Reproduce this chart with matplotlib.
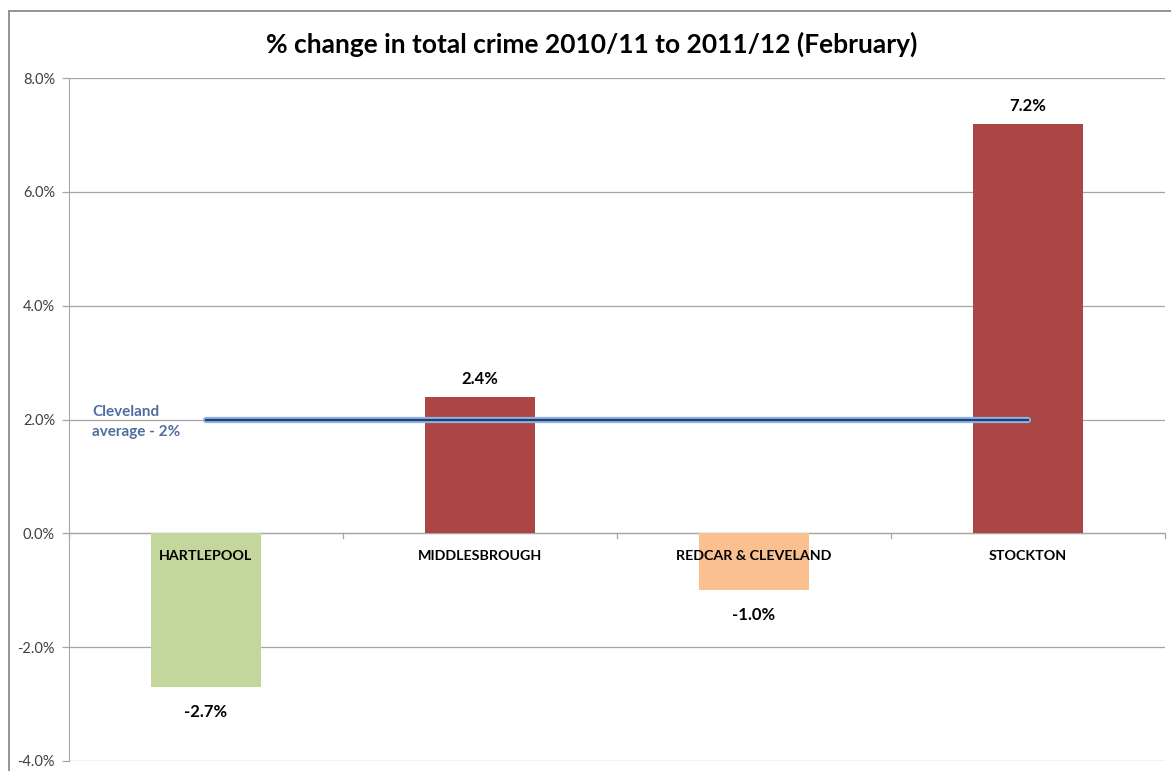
import matplotlib.pyplot as plt
from matplotlib.lines import Line2D
from matplotlib.ticker import FuncFormatter, MultipleLocator

plt.rcParams["font.family"] = ["Lato", "DejaVu Sans"]

areas = ["HARTLEPOOL", "MIDDLESBROUGH", "REDCAR & CLEVELAND", "STOCKTON"]
change = [-2.7, 2.4, -1.0, 7.2]
bar_colors = ["#C3D69B", "#AA4643", "#FAC090", "#AA4643"]
cleveland_avg = [2.0, 2.0, 2.0, 2.0]

W, H = 1171, 771
fig = plt.figure(figsize=(W / 100, H / 100), dpi=100)
fig.patch.set_edgecolor("none")
ax = fig.add_axes([69 / W, 1 - 761 / H, (1165 - 69) / W, (761 - 78) / H])

# outer chart border (only left and top edges are in the picture)
bx, by = 8.5 / W, 1 - 10.5 / H
fig.add_artist(Line2D([bx, bx], [0, by], transform=fig.transFigure, color="#8C8C8C", linewidth=1.3))
fig.add_artist(Line2D([bx, 1], [by, by], transform=fig.transFigure, color="#8C8C8C", linewidth=1.3))

x = list(range(len(areas)))
ax.bar(x, change, width=0.4, color=bar_colors, zorder=2)
ax.plot(x, cleveland_avg, color="#8EB4E3", linewidth=4.5, zorder=3, solid_capstyle="round")
ax.plot(x, cleveland_avg, color="#1F3F73", linewidth=1.6, zorder=4)

ax.set_xlim(-0.5, len(areas) - 0.5)
ax.set_ylim(-4, 8)
ax.yaxis.set_major_locator(MultipleLocator(2))
ax.yaxis.set_major_formatter(FuncFormatter(lambda v, p: f"{v:.1f}%"))
ax.grid(axis="y", color="#A6A6A6", linewidth=0.9, zorder=0)
ax.set_axisbelow(True)
ax.tick_params(axis="y", labelsize=10.5, labelcolor="#404040", color="#A6A6A6",
               length=5, width=0.9, pad=5)
ax.set_xticks([])
for s in ["top", "right", "bottom"]:
    ax.spines[s].set_visible(False)
ax.spines["left"].set_color("#A6A6A6")

# zero axis with category boundary ticks
ax.axhline(0, color="#A6A6A6", linewidth=0.9, zorder=1)
for b in [i - 0.5 for i in range(len(areas) + 1)]:
    ax.plot([b, b], [0, -0.09], color="#A6A6A6", linewidth=0.9, zorder=1, clip_on=False)

for i, (name, v) in enumerate(zip(areas, change)):
    ax.text(i, -0.39, name, ha="center", va="center", fontsize=10.3, fontweight="bold", zorder=5)
    off = 0.31 if v > 0 else -0.44
    ax.text(i, v + off, f"{v:.1f}%", ha="center", va="center", fontsize=12, fontweight="bold", zorder=5)

ax.text(-0.415, 1.96, "Cleveland\naverage - 2%", ha="left", va="center", fontsize=11,
        fontweight="bold", color="#4F6FA0", linespacing=1.55, zorder=5)

fig.text(592 / W, 1 - 44 / H, "% change in total crime 2010/11 to 2011/12 (February)",
         ha="center", va="center", fontsize=19, fontweight="bold")

fig.savefig("out.png", dpi=100)
